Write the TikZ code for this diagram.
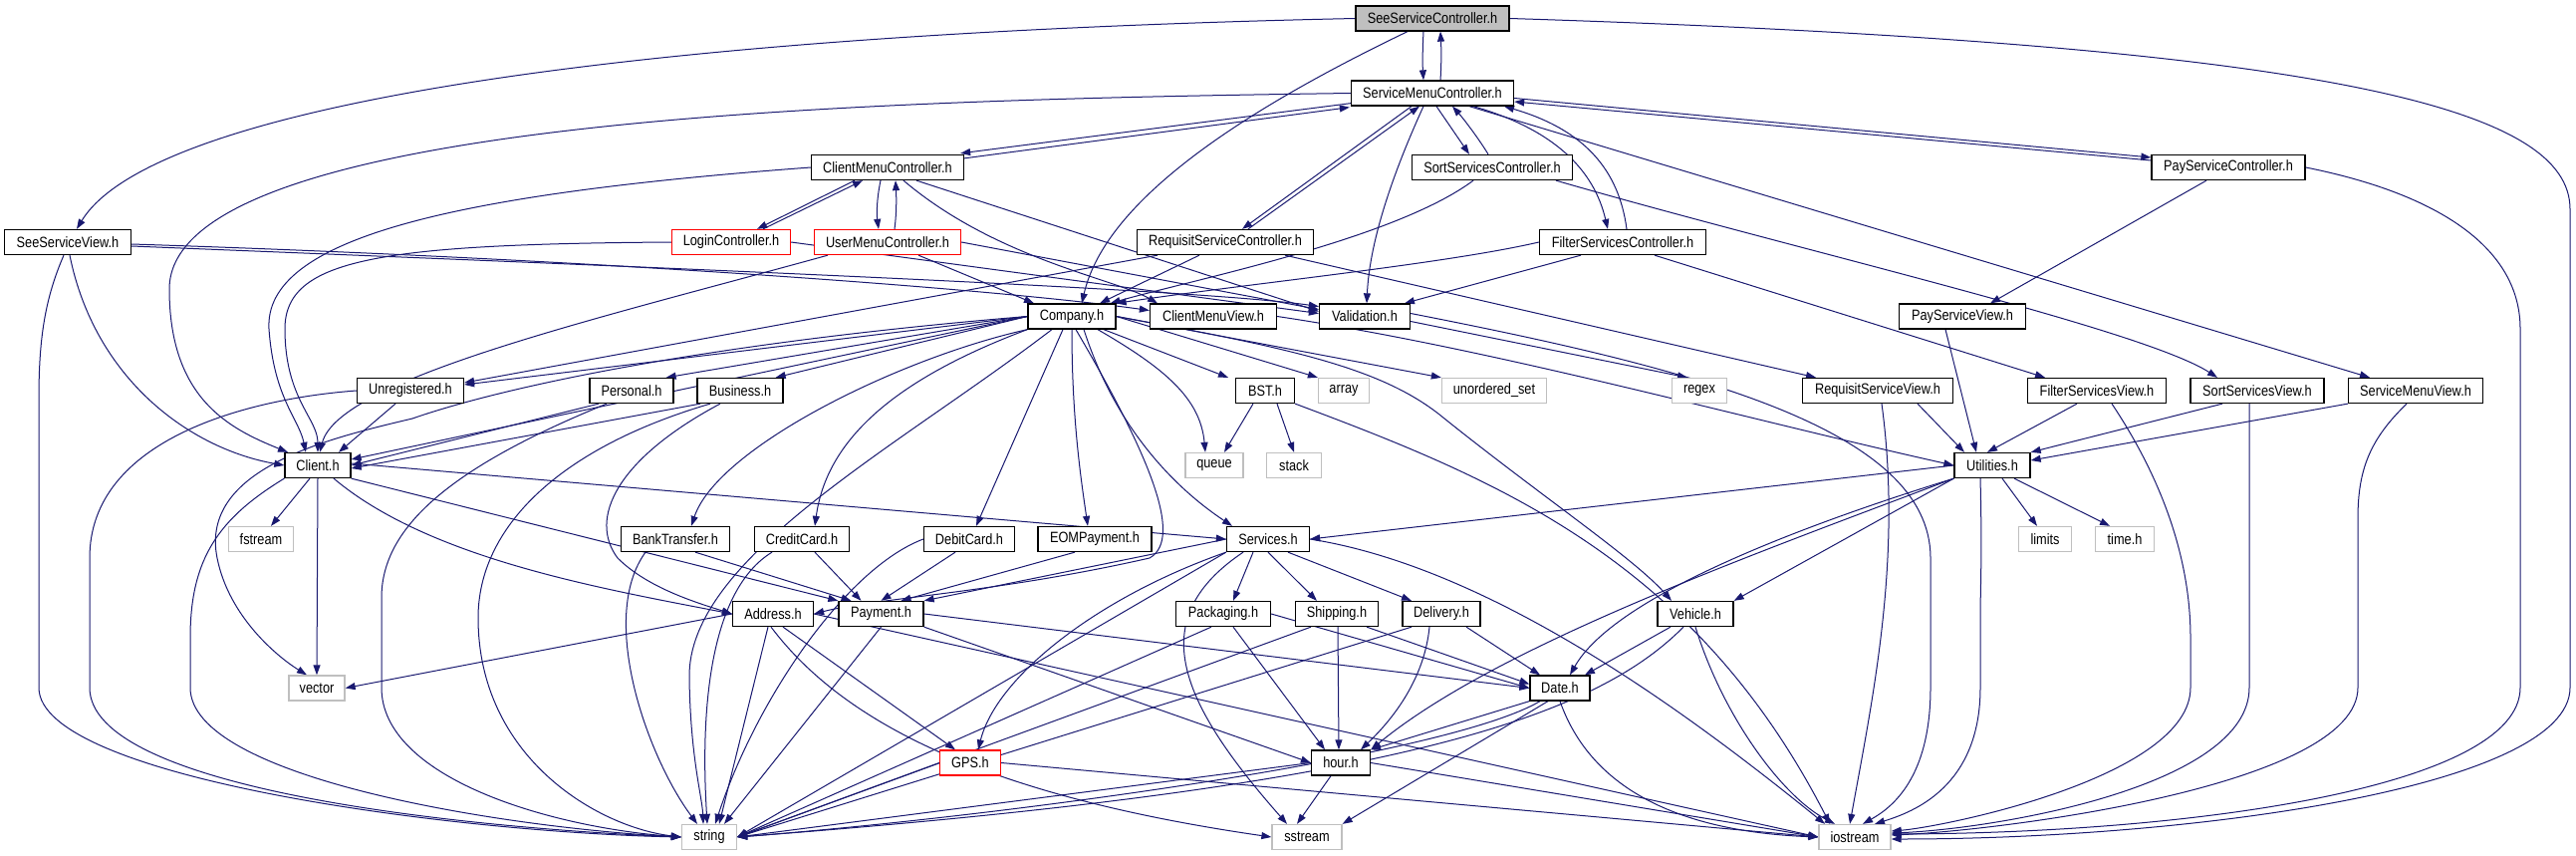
\documentclass[tikz,border=0pt]{standalone}
\usepackage{fontspec}
\newfontfamily\dxfont[FakeStretch=0.85]{Liberation Sans}
\usetikzlibrary{arrows.meta}
\definecolor{edgec}{RGB}{25,25,112}
\definecolor{sysgrey}{RGB}{191,191,191}
\definecolor{rootgrey}{RGB}{191,191,191}
\pgfdeclarelayer{back}
\pgfdeclarelayer{bg}
\pgfsetlayers{back,bg,main}
\begin{document}
\begin{tikzpicture}[x=1pt,y=-1pt,
 box/.style={draw=black, line width=1.3pt, fill=white, minimum height=25pt, inner sep=0pt, font=\dxfont\fontsize{15}{18}\selectfont},
 sysbox/.style={box, draw=sysgrey},
 redbox/.style={box, draw=red},
 rootbox/.style={box, fill=rootgrey},
 dep/.style={draw=edgec, line width=1pt, -{Triangle[length=10pt,width=7pt]}}]
\useasboundingbox (0,0) rectangle (2586,859);
\begin{pgfonlayer}{back}
\fill[white] (0,0) rectangle (2586,859);
\end{pgfonlayer}
% row 1-2
\node[rootbox, minimum width=154pt] (ssc) at (1438,18.5) {SeeServiceController.h};
\node[box, minimum width=163pt] (smc) at (1438,93.5) {ServiceMenuController.h};
% row 3
\node[box, minimum width=153pt] (cmc) at (891,168) {ClientMenuController.h};
\node[box, minimum width=161pt] (sortsc) at (1498,168) {SortServicesController.h};
\node[box, minimum width=154pt] (paysc) at (2237,168) {PayServiceController.h};
% row 4
\node[box, minimum width=127pt] (ssv) at (68,243) {SeeServiceView.h};
\node[redbox, minimum width=119pt] (lc) at (734,243) {LoginController.h};
\node[redbox, minimum width=147pt] (umc) at (891,243) {UserMenuController.h};
\node[box, minimum width=177pt] (rsc) at (1230,243) {RequisitServiceController.h};
\node[box, minimum width=167pt] (filtersc) at (1629,243) {FilterServicesController.h};
% row 5
\node[box, minimum width=88pt] (company) at (1076,317.5) {Company.h};
\node[box, minimum width=127pt] (cmv) at (1218,317.5) {ClientMenuView.h};
\node[box, minimum width=91pt] (valid) at (1370,317.5) {Validation.h};
\node[box, minimum width=127pt] (psv) at (1970,317.5) {PayServiceView.h};
% row 6
\node[box, minimum width=107pt] (unreg) at (412,392) {Unregistered.h};
\node[box, minimum width=84pt] (personal) at (634,392) {Personal.h};
\node[box, minimum width=86pt] (business) at (743,392) {Business.h};
\node[box, minimum width=59pt] (bst) at (1270,392) {BST.h};
\node[sysbox, minimum width=51pt] (array) at (1349,392) {array};
\node[sysbox, minimum width=105pt] (uset) at (1500,392) {unordered\_set};
\node[sysbox, minimum width=55pt] (regex) at (1706,392) {regex};
\node[box, minimum width=151pt] (rsv) at (1885,392) {RequisitServiceView.h};
\node[box, minimum width=139pt] (fsv) at (2105,392) {FilterServicesView.h};
\node[box, minimum width=134pt] (ssview) at (2266,392) {SortServicesView.h};
\node[box, minimum width=135pt] (smv) at (2425,392) {ServiceMenuView.h};
% row 7
\node[box, minimum width=66pt] (client) at (319,467) {Client.h};
\node[sysbox, minimum width=58pt] (queue) at (1219,467) {queue};
\node[sysbox, minimum width=55pt] (stack) at (1299,467) {stack};
\node[box, minimum width=76pt] (util) at (2000,467) {Utilities.h};
% row 8
\node[sysbox, minimum width=65pt] (fstream) at (262,541) {fstream};
\node[box, minimum width=109pt] (bank) at (678,541) {BankTransfer.h};
\node[box, minimum width=95pt] (credit) at (805,541) {CreditCard.h};
\node[box, minimum width=91pt] (debit) at (973,541) {DebitCard.h};
\node[box, minimum width=114pt] (eom) at (1099,541) {EOMPayment.h};
\node[box, minimum width=83pt] (services) at (1273,541) {Services.h};
\node[sysbox, minimum width=53pt] (limits) at (2053,541) {limits};
\node[sysbox, minimum width=59pt] (timeh) at (2133,541) {time.h};
% row 9
\node[box, minimum width=81pt] (address) at (776,616) {Address.h};
\node[box, minimum width=85pt] (payment) at (884.5,616) {Payment.h};
\node[box, minimum width=95pt] (packaging) at (1228,616) {Packaging.h};
\node[box, minimum width=83pt] (shipping) at (1342,616) {Shipping.h};
\node[box, minimum width=78pt] (delivery) at (1447,616) {Delivery.h};
\node[box, minimum width=76pt] (vehicle) at (1702,616) {Vehicle.h};
% row 10
\node[sysbox, minimum width=56pt] (vector) at (318,690.5) {vector};
\node[box, minimum width=60pt] (date) at (1566,690.5) {Date.h};
% row 11
\node[redbox, minimum width=61pt] (gps) at (974,765.5) {GPS.h};
\node[box, minimum width=59pt] (hour) at (1346,765.5) {hour.h};
% row 12
\node[sysbox, minimum width=55pt] (string) at (712,840) {string};
\node[sysbox, minimum width=70pt] (sstream) at (1312,840) {sstream};
\node[sysbox, minimum width=72pt] (iostream) at (1862,840) {iostream};

\begin{pgfonlayer}{bg}
% SeeServiceController
\draw[dep] (ssc.west) .. controls (600,35) and (150,110) .. ([xshift=9pt]ssv.north);
\draw[dep] ([xshift=-9pt]ssc.south) .. controls (1428,50) and (1428,65) .. ([xshift=-9pt]smc.north);
\draw[dep] ([xshift=8pt]smc.north) .. controls (1447,65) and (1447,50) .. ([xshift=8pt]ssc.south);
\draw[dep] ([xshift=-25pt]ssc.south) .. controls (1250,110) and (1110,200) .. ([xshift=10pt]company.north);
\draw[dep] (ssc.east) .. controls (2350,45) and (2580,110) .. (2580,210) -- (2580,690) .. controls (2580,790) and (2200,842) .. ([yshift=-2pt]iostream.east);
% ServiceMenuController
\draw[dep] ([yshift=3pt]smc.south west) -- ([xshift=-4pt,yshift=1pt]cmc.north east);
\draw[dep] ([yshift=-4pt]cmc.north east) -- ([xshift=-1pt,yshift=-1pt]smc.south west);
\draw[dep] (smc.west) .. controls (900,100) and (170,115) .. (170,290) .. controls (170,400) and (230,430) .. ([xshift=-30pt]client.north);
\draw[dep] ([xshift=4pt]smc.south) -- ([xshift=-23pt]sortsc.north);
\draw[dep] ([xshift=-4pt]sortsc.north) .. controls (1485,140) and (1470,120) .. ([xshift=20pt]smc.south);
\draw[dep] ([xshift=41pt]smc.south) .. controls (1560,130) and (1600,170) .. ([xshift=-15pt]filtersc.north);
\draw[dep] ([xshift=4pt]filtersc.north) .. controls (1625,170) and (1590,130) .. ([xshift=72pt]smc.south);
\draw[dep] ([yshift=-5pt]smc.east) -- ([yshift=10pt]paysc.west);
\draw[dep] ([yshift=7pt]paysc.west) -- ([yshift=-8.5pt]smc.east);
\draw[dep] ([xshift=-21pt]smc.south) -- ([xshift=17pt]rsc.north);
\draw[dep] ([xshift=23pt]rsc.north) -- ([xshift=-13pt]smc.south);
\draw[dep] ([xshift=-9pt]smc.south) .. controls (1400,170) and (1375,240) .. ([xshift=2pt]valid.north);
\draw[dep] ([xshift=37pt]smc.south) -- ([xshift=-46pt]smv.north);
% ClientMenuController
\draw[dep] (cmc.west) .. controls (450,195) and (265,240) .. (270,330) .. controls (275,400) and (300,420) .. ([xshift=-12pt]client.north);
\draw[dep] ([xshift=-33pt]cmc.south) -- ([xshift=26pt]lc.north);
\draw[dep] ([xshift=32pt]lc.north) -- ([xshift=-25pt]cmc.south);
\draw[dep] ([xshift=-7pt]cmc.south) .. controls (880,200) and (880,215) .. ([xshift=-9pt]umc.north);
\draw[dep] ([xshift=7pt]umc.north) .. controls (900,215) and (900,200) .. ([xshift=8pt]cmc.south);
\draw[dep] ([xshift=16pt]cmc.south) .. controls (1000,260) and (1120,280) .. ([xshift=-56pt]cmv.north);
\draw[dep] ([xshift=29pt]cmc.south) -- ([yshift=5pt]valid.west);
% LoginController
\draw[dep] (lc.west) .. controls (380,245) and (286,260) .. (286,330) .. controls (286,400) and (319,420) .. (client.north);
\draw[dep] (lc.east) -- ([yshift=3pt]valid.west);
% UserMenuController
\draw[dep] ([xshift=-60pt]umc.south) .. controls (600,320) and (340,380) .. ([xshift=2pt]client.north);
\draw[dep] ([xshift=31pt]umc.south) -- ([xshift=-38pt]company.north);
\draw[dep] (umc.east) -- ([yshift=7pt]valid.west);
% RequisitServiceController
\draw[dep] ([xshift=-68pt]rsc.south) -- ([yshift=8pt]unreg.east);
\draw[dep] ([xshift=-26pt]rsc.south) -- ([xshift=28pt]company.north);
\draw[dep] ([xshift=60pt]rsc.south) -- ([xshift=-62pt]rsv.north);
% SortServicesController
\draw[dep] ([xshift=-19pt]sortsc.south) .. controls (1400,240) and (1200,280) .. ([xshift=-6pt]company.north east);
\draw[dep] ([xshift=64pt]sortsc.south) .. controls (1800,250) and (2150,330) .. ([xshift=-40pt]ssview.north);
% FilterServicesController
\draw[dep] (filtersc.west) .. controls (1450,265) and (1250,285) .. (company.north east);
\draw[dep] ([xshift=-42pt]filtersc.south) -- ([xshift=40pt]valid.north);
\draw[dep] ([xshift=32pt]filtersc.south) -- ([xshift=-52pt]fsv.north);
% PayServiceController
\draw[dep] ([xshift=-22pt]paysc.south) -- ([xshift=28pt]psv.north);
\draw[dep] (paysc.east) .. controls (2450,195) and (2530,250) .. (2530,330) -- (2530,690) .. controls (2530,790) and (2200,836) .. ([yshift=3pt]iostream.east);
% SeeServiceView
\draw[dep] ([xshift=2pt]ssv.south) .. controls (95,380) and (190,450) .. (client.west);
\draw[dep] ([xshift=-4pt]ssv.south) .. controls (45,300) and (39,340) .. (39,400) -- (39,690) .. controls (39,780) and (450,835) .. (string.west);
\draw[dep] ([yshift=-2pt]ssv.east) .. controls (600,260) and (1000,290) .. ([yshift=6pt]cmv.west);
\draw[dep] ([yshift=-4pt]ssv.east) .. controls (700,270) and (1200,290) .. ([yshift=10pt]valid.west);
% Unregistered
\draw[dep] ([xshift=-15pt]unreg.south) -- ([xshift=21pt]client.north);
\draw[dep] (unreg.west) .. controls (250,400) and (90,440) .. (90,560) -- (90,690) .. controls (90,790) and (450,830) .. (string.west);
% Personal
\draw[dep] ([xshift=-33pt]personal.south) -- (client.east);
\draw[dep] ([xshift=-25pt]personal.south) .. controls (450,470) and (383,530) .. (383,600) -- (383,690) .. controls (383,780) and (550,830) .. (string.west);
% Business
\draw[dep] ([xshift=-40pt]business.south) -- ([yshift=-3pt]client.east);
\draw[dep] ([xshift=-20pt]business.south) .. controls (620,460) and (590,520) .. (620,560) .. controls (650,590) and (700,605) .. (address.west);
\draw[dep] ([xshift=-30pt]business.south) .. controls (560,450) and (480,530) .. (480,620) .. controls (480,760) and (600,830) .. (string.west);
% Company
\draw[dep] (company.west) -- ([yshift=6pt]unreg.east);
\draw[dep] (company.west) .. controls (700,345) and (500,390) .. (414,420) .. controls (330,440) and (200,470) .. (218,560) .. controls (230,620) and (280,660) .. ([xshift=-10pt]vector.north);
\draw[dep] (company.west) -- ([yshift=6pt]client.east);
\draw[dep] (company.west) -- ([xshift=-8pt]personal.north east);
\draw[dep] (company.west) -- ([xshift=-8pt]business.north east);
\draw[dep] (company.south west) .. controls (900,360) and (720,450) .. ([xshift=16pt]bank.north);
\draw[dep] (company.south west) .. controls (900,380) and (830,440) .. ([xshift=13pt]credit.north);
\draw[dep] ([xshift=-9pt]company.south) -- ([xshift=7pt]debit.north);
\draw[dep] (company.south) .. controls (1076,420) and (1085,480) .. ([xshift=-7pt]eom.north);
\draw[dep] ([xshift=12pt]company.south) .. controls (1120,430) and (1180,490) .. ([xshift=-36pt]services.north);
\draw[dep] ([xshift=26pt]company.south) .. controls (1170,370) and (1205,400) .. ([xshift=-9pt]queue.north);
\draw[dep] ([xshift=32pt]company.south) -- ([xshift=-37pt]bst.north);
\draw[dep] (company.east) -- (array.north west);
\draw[dep] (company.east) -- (uset.north west);
\draw[dep] (company.east) .. controls (1300,350) and (1390,370) .. (1450,420) .. controls (1550,500) and (1640,560) .. ([xshift=-24pt]vehicle.north);
\draw[dep] ([xshift=-20pt]company.south) .. controls (900,450) and (690,560) .. (692,680) .. controls (693,760) and (705,800) .. ([xshift=-6pt]string.north);
\draw[dep] ([xshift=4pt]company.south) .. controls (1150,450) and (1190,540) .. (1154,560) .. controls (1000,595) and (880,600) .. (address.east);
% Client
\draw[dep] ([xshift=-8pt]client.south) -- ([xshift=10pt]fstream.north);
\draw[dep] (client.south) -- (vector.north);
\draw[dep] (client.south west) .. controls (220,520) and (191,560) .. (191,640) -- (191,690) .. controls (191,780) and (500,830) .. (string.west);
\draw[dep] ([xshift=16pt]client.south) .. controls (430,560) and (600,590) .. (address.west);
\draw[dep] (client.south east) -- (payment.north west);
\draw[dep] ([yshift=2pt]client.east) -- (services.west);
% Payment types
\draw[dep] ([xshift=20pt]bank.south) -- ([xshift=-30pt]payment.north);
\draw[dep] ([xshift=-30pt]bank.south) .. controls (600,620) and (650,760) .. ([xshift=-12pt]string.north);
\draw[dep] ([xshift=13pt]credit.south) -- ([xshift=-20pt]payment.north);
\draw[dep] ([xshift=-30pt]credit.south) .. controls (700,600) and (706,760) .. ([xshift=-2pt]string.north);
\draw[dep] ([xshift=-14pt]debit.south) -- (payment.north);
\draw[dep] (debit.west) .. controls (850,570) and (760,700) .. ([xshift=6pt]string.north);
\draw[dep] ([xshift=-20pt]eom.south) -- ([xshift=20pt]payment.north);
% Services
\draw[dep] (services.west) -- (payment.north east);
\draw[dep] ([xshift=-15pt]services.south) -- ([xshift=10pt]packaging.north);
\draw[dep] (services.south) -- ([xshift=-20pt]shipping.north);
\draw[dep] ([xshift=20pt]services.south) -- ([xshift=-30pt]delivery.north);
\draw[dep] (services.south west) .. controls (1100,600) and (1000,680) .. ([xshift=8pt]gps.north);
\draw[dep] (services.south west) -- (string.east);
\draw[dep] ([xshift=-25pt]services.south) .. controls (1150,620) and (1180,700) .. ([xshift=-20pt]sstream.north);
\draw[dep] (services.east) .. controls (1500,570) and (1700,720) .. ([xshift=-30pt]iostream.north);
% Packaging, Shipping, Delivery
\draw[dep] ([xshift=-12pt]packaging.south) -- (string.east);
\draw[dep] ([xshift=10pt]packaging.south) -- ([xshift=-16pt]hour.north);
\draw[dep] (packaging.east) -- (date.west);
\draw[dep] ([xshift=30pt]shipping.south) -- ([yshift=4pt]date.west);
\draw[dep] ([xshift=1pt]shipping.south) -- ([xshift=-2pt]hour.north);
\draw[dep] ([xshift=-26pt]shipping.south) -- (string.east);
\draw[dep] ([xshift=25pt]delivery.south) -- ([xshift=-20pt]date.north);
\draw[dep] ([xshift=-12pt]delivery.south) .. controls (1430,680) and (1400,720) .. ([xshift=20pt]hour.north);
\draw[dep] ([xshift=-30pt]delivery.south) -- (string.east);
% Vehicle
\draw[dep] ([xshift=-25pt]vehicle.south) -- ([xshift=25pt]date.north);
\draw[dep] ([xshift=-12pt]vehicle.south) .. controls (1600,720) and (1400,790) .. (string.east);
\draw[dep] (vehicle.south) .. controls (1730,720) and (1790,800) .. ([xshift=-20pt]iostream.north);
% Date, hour, GPS
\draw[dep] (date.south west) -- (hour.north east);
\draw[dep] ([xshift=-20pt]date.south) .. controls (1450,760) and (1000,820) .. (string.east);
\draw[dep] ([xshift=-12pt]date.south) -- (sstream.north east);
\draw[dep] (date.south) .. controls (1600,800) and (1700,835) .. (iostream.west);
\draw[dep] (hour.west) -- (string.east);
\draw[dep] ([xshift=-10pt]hour.south) -- ([xshift=-10pt]sstream.north);
\draw[dep] (hour.east) -- (iostream.west);
\draw[dep] (gps.west) -- (string.east);
\draw[dep] (gps.east) -- (iostream.west);
% Address, Payment
\draw[dep] (address.west) -- (vector.east);
\draw[dep] ([xshift=-5pt]address.south) -- ([xshift=10pt]string.north);
\draw[dep] ([xshift=10pt]address.south) -- ([xshift=-15pt]gps.north);
\draw[dep] ([xshift=-2pt]address.south) .. controls (850,730) and (1000,800) .. (sstream.west);
\draw[dep] (address.east) -- (iostream.west);
\draw[dep] (payment.south) -- ([xshift=15pt]string.north);
\draw[dep] (payment.east) -- (date.west);
\draw[dep] (payment.south east) -- (hour.west);
% BST
\draw[dep] ([xshift=-12pt]bst.south) -- ([xshift=10pt]queue.north);
\draw[dep] ([xshift=12pt]bst.south) -- (stack.north);
\draw[dep] (bst.south east) .. controls (1500,480) and (1700,560) .. ([xshift=-25pt]iostream.north);
% Utilities
\draw[dep] (util.west) -- (services.east);
\draw[dep] (util.south west) .. controls (1800,530) and (1620,600) .. ([xshift=10pt]date.north);
\draw[dep] (util.south west) .. controls (1750,560) and (1500,650) .. (hour.north east);
\draw[dep] (util.south west) -- (vehicle.north east);
\draw[dep] ([xshift=10pt]util.south) -- ([xshift=-8pt]limits.north);
\draw[dep] ([xshift=22pt]util.south) -- ([xshift=-15pt]timeh.north);
\draw[dep] ([xshift=-12pt]util.south) .. controls (1990,560) and (1988,590) .. (1988,620) -- (1988,690) .. controls (1988,790) and (1920,815) .. ([xshift=20pt]iostream.north);
% Views
\draw[dep] (cmv.east) .. controls (1500,350) and (1750,420) .. (util.west);
\draw[dep] ([yshift=-5pt]valid.east) -- ([xshift=-12pt]regex.north);
\draw[dep] ([yshift=3pt]valid.east) .. controls (1700,370) and (1938,430) .. (1938,560) -- (1938,690) .. controls (1938,780) and (1900,810) .. ([xshift=8pt]iostream.north);
\draw[dep] ([xshift=-17pt]psv.south) -- ([xshift=-16pt]util.north);
\draw[dep] ([xshift=40pt]rsv.south) -- ([xshift=-28pt]util.north);
\draw[dep] ([xshift=4pt]rsv.south) .. controls (1910,560) and (1880,700) .. ([xshift=-5pt]iostream.north);
\draw[dep] ([xshift=-20pt]fsv.south) -- ([xshift=-5pt]util.north);
\draw[dep] ([xshift=15pt]fsv.south) .. controls (2170,480) and (2199,560) .. (2199,640) -- (2199,690) .. controls (2199,780) and (1950,830) .. ([yshift=6pt]iostream.east);
\draw[dep] ([xshift=-35pt]ssview.south) -- (util.north east);
\draw[dep] ([xshift=-8pt]ssview.south) .. controls (2258,450) and (2258,480) .. (2258,520) -- (2258,690) .. controls (2258,790) and (2000,832) .. ([yshift=4pt]iostream.east);
\draw[dep] (smv.south west) -- ([yshift=5pt]util.east);
\draw[dep] ([xshift=-9pt]smv.south) .. controls (2380,440) and (2367,470) .. (2367,520) -- (2367,690) .. controls (2367,790) and (2000,834) .. ([yshift=2pt]iostream.east);
\end{pgfonlayer}
\end{tikzpicture}
\end{document}
